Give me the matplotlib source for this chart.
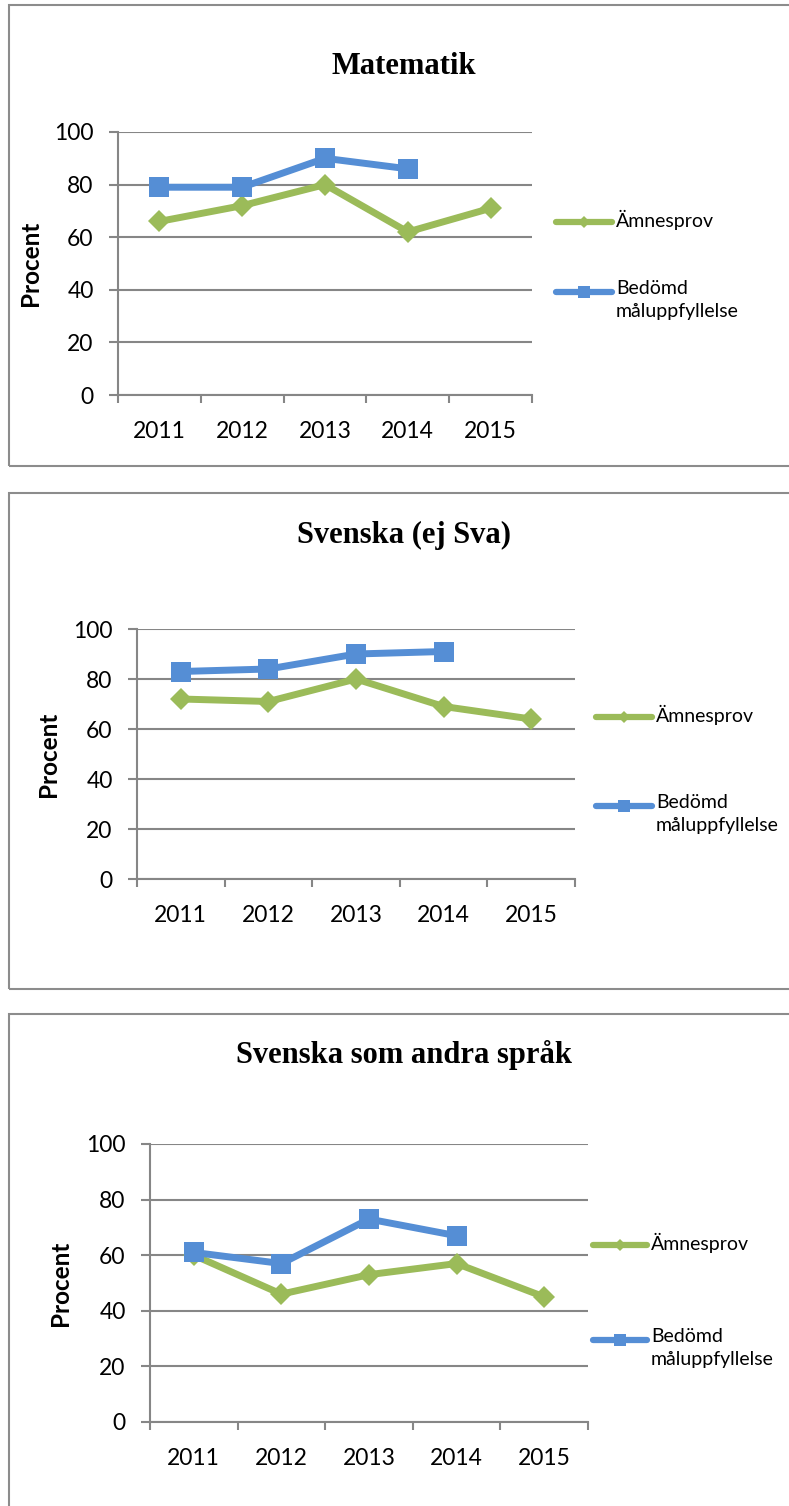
import matplotlib
matplotlib.use("Agg")
import matplotlib.pyplot as plt
from matplotlib.lines import Line2D
from matplotlib.patches import Rectangle
import numpy as np

# data
years = ["2011", "2012", "2013", "2014", "2015"]
titles = ["Matematik", "Svenska (ej Sva)", "Svenska som andra språk"]
series_names = ["Ämnesprov", "Bedömd\nmåluppfyllelse"]

amnesprov_mat = [66, 72, 80, 62, 71]
bedomd_mat = [79, 79, 90, 86]
amnesprov_sv = [72, 71, 80, 69, 64]
bedomd_sv = [83, 84, 90, 91]
amnesprov_sva = [60, 46, 53, 57, 45]
bedomd_sva = [61, 57, 73, 67]

GREEN = "#9BBB59"
BLUE = "#558ED5"
GRID = "#868686"
FONT = "Lato"

W, H = 789, 1506
fig = plt.figure(figsize=(W / 100, H / 100), dpi=100)


def fx(px):
    return px / W


def fy(py):
    return 1 - py / H


# pixel layout of each panel
layout = [
    dict(border=(9, 5, 466), ax=(118, 132, 532, 395), title_y=67, ylab_x=31,
         leg_x=(556, 612), leg_y=(222, 292)),
    dict(border=(9, 493, 989), ax=(137, 629, 575, 879), title_y=535, ylab_x=49,
         leg_x=(596, 652), leg_y=(717, 806)),
    dict(border=(9, 1014, 1530), ax=(150, 1144, 588, 1422), title_y=1055, ylab_x=61,
         leg_x=(593, 647), leg_y=(1245, 1340)),
]
green_data = [amnesprov_mat, amnesprov_sv, amnesprov_sva]
blue_data = [bedomd_mat, bedomd_sv, bedomd_sva]

for i, lay in enumerate(layout):
    bx, btop, bbot = lay["border"]
    fig.add_artist(Rectangle((fx(bx), fy(bbot)), fx(820 - bx), fy(btop) - fy(bbot),
                             transform=fig.transFigure, fill=False,
                             edgecolor="#8C8C8C", linewidth=1.5))

    l, t, r, b = lay["ax"]
    ax = fig.add_axes([fx(l), fy(b), fx(r - l), fy(t) - fy(b)])
    n = len(years)
    ax.set_xlim(0, n)
    ax.set_ylim(0, 100)

    xg = np.arange(n) + 0.5
    ax.plot(xg[:len(green_data[i])], green_data[i], color=GREEN, lw=5,
            marker="D", markersize=11, markeredgewidth=0, zorder=3, clip_on=False)
    ax.plot(xg[:len(blue_data[i])], blue_data[i], color=BLUE, lw=5,
            marker="s", markersize=14.5, markeredgewidth=0, zorder=4, clip_on=False)

    # axes styling, Excel-like
    for s in ["top", "right"]:
        ax.spines[s].set_visible(False)
    for s in ["left", "bottom"]:
        ax.spines[s].set_color(GRID)
        ax.spines[s].set_linewidth(1.5)
    ax.set_yticks(range(0, 101, 20))
    ax.yaxis.grid(True, color=GRID, linewidth=1.5)
    ax.set_axisbelow(True)
    ax.tick_params(axis="y", direction="out", length=6.5, width=1.5, color=GRID,
                   pad=11, labelsize=16.5, labelcolor="black")
    ax.set_xticks(range(0, n + 1))
    ax.set_xticklabels([])
    ax.set_xticks(xg, minor=True)
    ax.set_xticklabels(years, minor=True)
    ax.tick_params(axis="x", which="major", direction="out", length=6, width=1.5,
                   color=GRID)
    ax.tick_params(axis="x", which="minor", length=0, pad=19, labelsize=16.5)
    for lab in ax.get_xticklabels(minor=True) + ax.get_yticklabels():
        lab.set_fontfamily(FONT)

    fig.text(fx(404), fy(lay["title_y"]), titles[i], ha="center", va="center",
             fontsize=22, fontweight="bold", family="Liberation Serif")
    fig.text(fx(lay["ylab_x"]), fy((t + b) / 2), "Procent", rotation=90,
             ha="center", va="center", fontsize=17.5, fontweight="bold", family=FONT)

    # legend
    x0, x1 = lay["leg_x"]
    for name, col, mk, ms, ly in zip(series_names, [GREEN, BLUE], ["D", "s"],
                                     [6.5, 9], lay["leg_y"]):
        fig.add_artist(Line2D([fx(x0), fx((x0 + x1) / 2), fx(x1)], [fy(ly)] * 3,
                              transform=fig.transFigure, color=col, lw=4.5,
                              solid_capstyle="round", marker=mk, markevery=[1],
                              markersize=ms, markeredgewidth=0))
        fig.text(fx(x1 + 4), fy(ly - 12), name, ha="left", va="top", fontsize=14,
                 family=FONT, linespacing=1.45)

fig.savefig("out.png", dpi=100)
